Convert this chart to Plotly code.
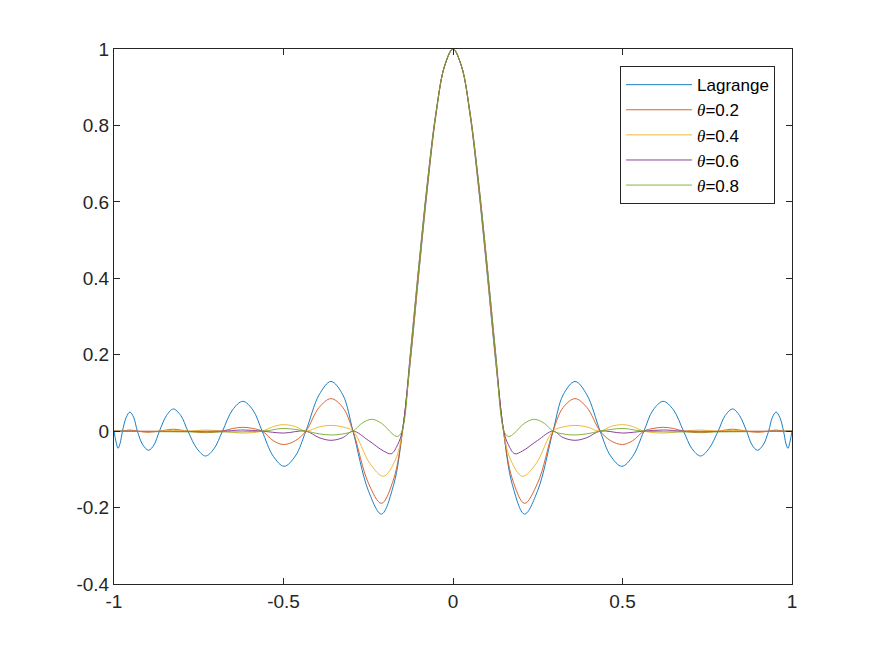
import plotly.graph_objects as go

# ---------------- data ----------------
x_lagrange = [-1.0, -0.994, -0.988, -0.982, -0.975, -0.964, -0.953, -0.942, -0.931, -0.915, -0.898, -0.882,
              -0.866, -0.845, -0.825, -0.803, -0.782, -0.755, -0.73, -0.705, -0.68, -0.65, -0.62, -0.59,
              -0.563, -0.53, -0.498, -0.465, -0.434, -0.395, -0.36, -0.325, -0.295, -0.25, -0.211, -0.175,
              -0.149, -0.125, -0.1, -0.075, -0.05, -0.025, 0.0,
              0.025, 0.05, 0.075, 0.1, 0.125, 0.149, 0.175, 0.211, 0.25, 0.295, 0.325, 0.36, 0.395,
              0.434, 0.465, 0.498, 0.53, 0.563, 0.59, 0.62, 0.65, 0.68, 0.705, 0.73, 0.755, 0.782,
              0.803, 0.825, 0.845, 0.866, 0.882, 0.898, 0.915, 0.931, 0.942, 0.953, 0.964, 0.975,
              0.982, 0.988, 0.994, 1.0]
y_lagrange = [0.0, -0.028, -0.045, -0.032, 0.0, 0.036, 0.050, 0.036, 0.0, -0.036, -0.050, -0.036,
              0.0, 0.041, 0.058, 0.041, 0.0, -0.046, -0.065, -0.046, 0.0, 0.056, 0.078, 0.055,
              0.0, -0.066, -0.092, -0.065, 0.0, 0.095, 0.130, 0.095, 0.0, -0.155, -0.217, -0.14,
              0.0, 0.19, 0.42, 0.64, 0.83, 0.955, 1.0,
              0.955, 0.83, 0.64, 0.42, 0.19, 0.0, -0.14, -0.217, -0.155, 0.0, 0.095, 0.130, 0.095,
              0.0, -0.065, -0.092, -0.066, 0.0, 0.055, 0.078, 0.056, 0.0, -0.046, -0.065, -0.046, 0.0,
              0.041, 0.058, 0.041, 0.0, -0.036, -0.050, -0.036, 0.0, 0.036, 0.050, 0.036, 0.0,
              -0.032, -0.045, -0.028, 0.0]

x_theta02 = [-1.0, -0.975, -0.953, -0.931, -0.9, -0.866, -0.825, -0.782, -0.73, -0.68, -0.65, -0.62,
             -0.59, -0.563, -0.53, -0.5, -0.465, -0.434, -0.395, -0.36, -0.325, -0.295, -0.25, -0.211,
             -0.175, -0.149, -0.125, -0.1, -0.075, -0.05, -0.025, 0.0,
             0.025, 0.05, 0.075, 0.1, 0.125, 0.149, 0.175, 0.211, 0.25, 0.295, 0.325, 0.36, 0.395,
             0.434, 0.465, 0.5, 0.53, 0.563, 0.59, 0.62, 0.65, 0.68, 0.73, 0.782, 0.825, 0.866, 0.9,
             0.931, 0.953, 0.975, 1.0]
y_theta02 = [0.0, 0.0, 0.003, 0.0, -0.003, 0.0, 0.005, 0.0, -0.004, 0.0, 0.007, 0.010,
             0.007, 0.0, -0.025, -0.035, -0.025, 0.0, 0.062, 0.085, 0.062, 0.0, -0.135, -0.189,
             -0.125, 0.0, 0.195, 0.425, 0.645, 0.83, 0.955, 1.0,
             0.955, 0.83, 0.645, 0.425, 0.195, 0.0, -0.125, -0.189, -0.135, 0.0, 0.062, 0.085, 0.062,
             0.0, -0.025, -0.035, -0.025, 0.0, 0.007, 0.010, 0.007, 0.0, -0.004, 0.0, 0.005, 0.0, -0.003,
             0.0, 0.003, 0.0, 0.0]

x_theta04 = [-1.0, -0.866, -0.825, -0.782, -0.73, -0.68, -0.62, -0.563, -0.53, -0.5, -0.465, -0.434,
             -0.395, -0.36, -0.325, -0.295, -0.245, -0.205, -0.17, -0.149, -0.125, -0.1, -0.075, -0.05,
             -0.025, 0.0,
             0.025, 0.05, 0.075, 0.1, 0.125, 0.149, 0.17, 0.205, 0.245, 0.295, 0.325, 0.36, 0.395,
             0.434, 0.465, 0.5, 0.53, 0.563, 0.62, 0.68, 0.73, 0.782, 0.825, 0.866, 1.0]
y_theta04 = [0.0, 0.0, 0.002, 0.0, 0.003, 0.0, -0.005, 0.0, 0.012, 0.017, 0.012, 0.0,
             0.011, 0.015, 0.011, 0.0, -0.085, -0.118, -0.075, 0.0, 0.2, 0.43, 0.65, 0.833,
             0.955, 1.0,
             0.955, 0.833, 0.65, 0.43, 0.2, 0.0, -0.075, -0.118, -0.085, 0.0, 0.011, 0.015, 0.011,
             0.0, 0.012, 0.017, 0.012, 0.0, -0.005, 0.0, 0.003, 0.0, 0.002, 0.0, 0.0]

x_theta06 = [-1.0, -0.68, -0.62, -0.563, -0.5, -0.434, -0.395, -0.36, -0.325, -0.295, -0.25, -0.205,
             -0.182, -0.163, -0.15, -0.125, -0.1, -0.075, -0.05, -0.025, 0.0,
             0.025, 0.05, 0.075, 0.1, 0.125, 0.15, 0.163, 0.182, 0.205, 0.25, 0.295, 0.325, 0.36,
             0.395, 0.434, 0.5, 0.563, 0.62, 0.68, 1.0]
y_theta06 = [0.0, 0.0, 0.003, 0.0, -0.005, 0.0, -0.017, -0.024, -0.017, 0.0, -0.024, -0.052,
             -0.059, -0.035, 0.0, 0.21, 0.44, 0.655, 0.835, 0.955, 1.0,
             0.955, 0.835, 0.655, 0.44, 0.21, 0.0, -0.035, -0.059, -0.052, -0.024, 0.0, -0.017, -0.024,
             -0.017, 0.0, -0.005, 0.0, 0.003, 0.0, 0.0]

x_theta08 = [-1.0, -0.563, -0.5, -0.434, -0.395, -0.36, -0.33, -0.295, -0.27, -0.24, -0.21, -0.18,
             -0.165, -0.155, -0.145, -0.125, -0.1, -0.075, -0.05, -0.025, 0.0,
             0.025, 0.05, 0.075, 0.1, 0.125, 0.145, 0.155, 0.165, 0.18, 0.21, 0.24, 0.27, 0.295,
             0.33, 0.36, 0.395, 0.434, 0.5, 0.563, 1.0]
y_theta08 = [0.0, 0.0, 0.007, 0.0, -0.007, -0.010, -0.008, 0.0, 0.02, 0.031, 0.02, -0.006,
             -0.014, -0.008, 0.02, 0.21, 0.44, 0.655, 0.835, 0.955, 1.0,
             0.955, 0.835, 0.655, 0.44, 0.21, 0.02, -0.008, -0.014, -0.006, 0.02, 0.031, 0.02, 0.0,
             -0.008, -0.010, -0.007, 0.0, 0.007, 0.0, 0.0]

series_names = ["Lagrange", "θ=0.2", "θ=0.4", "θ=0.6", "θ=0.8"]
x_tick_vals = [-1, -0.5, 0, 0.5, 1]
x_tick_text = ["-1", "-0.5", "0", "0.5", "1"]
y_tick_vals = [-0.4, -0.2, 0, 0.2, 0.4, 0.6, 0.8, 1]
y_tick_text = ["-0.4", "-0.2", "0", "0.2", "0.4", "0.6", "0.8", "1"]

# ---------------- styling ----------------
colors = ["#0072BD", "#D95319", "#EDB120", "#7E2F8E", "#77AC30"]
axis_color = "#262626"
font_family = "Liberation Sans, Arial, Helvetica, sans-serif"


def legend_label(name):
    if name.startswith("θ"):
        return ("<span style='font-family:Liberation Serif'><i>θ</i></span>" + name[1:])
    return name


fig = go.Figure()
all_x = [x_lagrange, x_theta02, x_theta04, x_theta06, x_theta08]
all_y = [y_lagrange, y_theta02, y_theta04, y_theta06, y_theta08]
for xs, ys, name, c in zip(all_x, all_y, series_names, colors):
    fig.add_trace(go.Scatter(
        x=xs, y=ys, mode="lines", name=legend_label(name),
        line=dict(color=c, width=0.9, shape="spline", smoothing=1.0),
    ))

axis_common = dict(
    showgrid=False, zeroline=False, showline=True, linecolor=axis_color, linewidth=1,
    mirror="allticks", ticks="inside", ticklen=6, tickcolor=axis_color, tickwidth=1,
    tickfont=dict(family=font_family, size=19, color=axis_color),
)

# the page body adds an 8px offset, so the margins are shifted by 8px
fig.update_layout(
    width=875, height=656,
    margin=dict(l=106, r=91, t=41, b=80),
    paper_bgcolor="white", plot_bgcolor="white",
    font=dict(family=font_family, color=axis_color),
    xaxis=dict(range=[-1, 1], tickmode="array", tickvals=x_tick_vals, ticktext=x_tick_text,
               **axis_common),
    yaxis=dict(range=[-0.4, 1], tickmode="array", tickvals=y_tick_vals, ticktext=y_tick_text,
               **axis_common),
    legend=dict(
        x=0.975, xanchor="right", y=0.968, yanchor="top",
        bgcolor="white", bordercolor=axis_color, borderwidth=1,
        font=dict(family=font_family, size=17, color="black"),
        tracegroupgap=0, itemwidth=66,
    ),
    showlegend=True,
)

fig.write_html("out.html")
